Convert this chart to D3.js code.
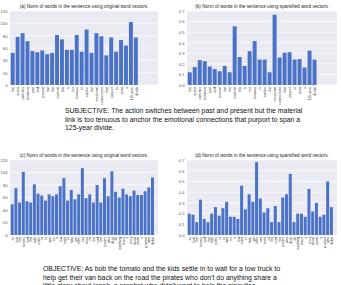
<!DOCTYPE html>
<html><head><meta charset="utf-8">
<script src="https://cdn.jsdelivr.net/npm/d3@7"></script>
<style>body{margin:0;background:#fff;} svg{display:block}</style>
</head><body><svg id="c" width="341" height="285"></svg>
<script>
const subjWords = ["the","action","switches","between","past","and","present","but","the","material","link","is","too","tenuous","to","anchor","the","emotional","connections","that","purport","to","span","a","125-year","divide"];
const subjOrig = [52,78,84,71,55,53,56,50,52,81,74,57,57,81,54,90,52,84,79,48,77,54,73,64,102,77];
const subjSparse = [0.12,0.17,0.235,0.225,0.175,0.15,0.13,0.18,0.12,0.555,0.265,0.18,0.32,0.415,0.24,0.24,0.12,0.665,0.26,0.305,0.31,0.24,0.245,0.165,0.325,0.24];

const objWords = ["as","bob","the","tomato","and","the","kids","settle","in","to","wait","for","a","tow","truck","to","help","get","their","van","back","on","the","road","the","pirates","who","don't","do","anything","share","a","story","about","jonah","a","prophet","who","didn't"];
const objOrig = [49,75,52,101,54,52,81,66,63,55,65,62,65,78,91,55,72,57,65,107,59,65,52,80,52,91,62,102,69,60,74,65,62,71,64,64,70,76,92];
const objSparse = [0.2,0.19,0.12,0.33,0.15,0.12,0.2,0.26,0.18,0.25,0.31,0.17,0.17,0.15,0.46,0.24,0.38,0.31,0.68,0.34,0.21,0.25,0.12,0.27,0.12,0.35,0.38,0.57,0.12,0.2,0.2,0.17,0.43,0.22,0.3,0.17,0.19,0.5,0.26];

const origTicks = [0,20,40,60,80,100,120];
const sparseTicks = [0,0.1,0.2,0.3,0.4,0.5,0.6,0.7];

const titles = [
  "(a) Norm of words in the sentence using original word vectors.",
  "(b) Norm of words in the sentence using sparsified word vectors.",
  "(c) Norm of words in the sentence using original word vectors.",
  "(d) Norm of words in the sentence using sparsified word vectors."
];
const subjLines = ["SUBJECTIVE: The action switches between past and present but the material",
  "link is too tenuous to anchor the emotional connections that purport to span a",
  "125-year divide."];
const objLines = ["OBJECTIVE: As bob the tomato and the kids settle in to wait for a tow truck to",
  "help get their van back on the road the pirates who don't do anything share a",
  "little story about jonah, a prophet who didn't want to help the ninevites."];

const svg = d3.select("#c");
const BAR = "#4a72c6", BG = "#eaeaf2";
const FONT = "'Liberation Sans', Arial, sans-serif";

const panels = [
  {title: titles[0], words: subjWords, values: subjOrig, ticks: origTicks, ymax: 120, fmt: d3.format("d"), left: 10, right: 158, top: 11, bottom: 85, xd: [-0.55, 29.5]},
  {title: titles[1], words: subjWords, values: subjSparse, ticks: sparseTicks, ymax: 0.7, fmt: d3.format(".1f"), left: 187, right: 337, top: 11, bottom: 85, xd: [-0.55, 29.5]},
  {title: titles[2], words: objWords, values: objOrig, ticks: origTicks, ymax: 120, fmt: d3.format("d"), left: 10, right: 158, top: 160, bottom: 235, xd: [-0.6, 39.5]},
  {title: titles[3], words: objWords, values: objSparse, ticks: sparseTicks, ymax: 0.7, fmt: d3.format(".1f"), left: 187, right: 337, top: 160, bottom: 235, xd: [-0.6, 39.5]}
];

panels.forEach(p => {
  const g = svg.append("g");
  const x = d3.scaleLinear().domain(p.xd).range([p.left, p.right]);
  const y = d3.scaleLinear().domain([0, p.ymax]).range([p.bottom, p.top]);
  g.append("rect").attr("x", p.left).attr("y", p.top).attr("width", p.right - p.left).attr("height", p.bottom - p.top).attr("fill", BG);
  g.selectAll("line.grid").data(p.ticks).join("line").attr("class", "grid")
    .attr("x1", p.left).attr("x2", p.right).attr("y1", d => y(d)).attr("y2", d => y(d))
    .attr("stroke", "#fff").attr("stroke-width", 0.7);
  g.selectAll("rect.bar").data(p.values).join("rect").attr("class", "bar")
    .attr("x", (d, i) => x(i - 0.4)).attr("width", (d, i) => x(i + 0.4) - x(i - 0.4))
    .attr("y", d => y(d)).attr("height", d => y(0) - y(d)).attr("fill", BAR);
  const ya = d3.axisLeft(y).tickValues(p.ticks).tickFormat(p.fmt).tickSize(0).tickPadding(2.5);
  const yg = g.append("g").attr("transform", `translate(${p.left},0)`).call(ya);
  yg.select(".domain").remove();
  yg.selectAll("text").attr("font-size", 4.2).attr("font-family", FONT).attr("fill", "#555");
  const xa = d3.axisBottom(x).tickValues(d3.range(p.words.length)).tickFormat(i => p.words[i]).tickSize(0);
  const xg = g.append("g").attr("transform", `translate(0,${p.bottom})`).call(xa);
  xg.select(".domain").remove();
  xg.selectAll("text").attr("font-size", 3.4).attr("font-family", FONT).attr("fill", "#444")
    .attr("transform", "rotate(-90)").attr("text-anchor", "end").attr("x", -1.8).attr("y", 0).attr("dy", "0.35em");
  g.append("text").attr("x", (p.left + p.right) / 2).attr("y", p.top - 3).attr("text-anchor", "middle")
    .attr("font-size", 4.7).attr("font-family", FONT).attr("fill", "#222").text(p.title);
});

function para(lines, x0, y0) {
  svg.append("g").selectAll("text").data(lines).join("text")
    .attr("x", x0).attr("y", (d, i) => y0 + i * 8.6)
    .attr("font-size", 6.9).attr("font-family", FONT).attr("fill", "#111").text(d => d);
}
para(subjLines, 65, 113);
para(objLines, 43, 271);
</script></body></html>
